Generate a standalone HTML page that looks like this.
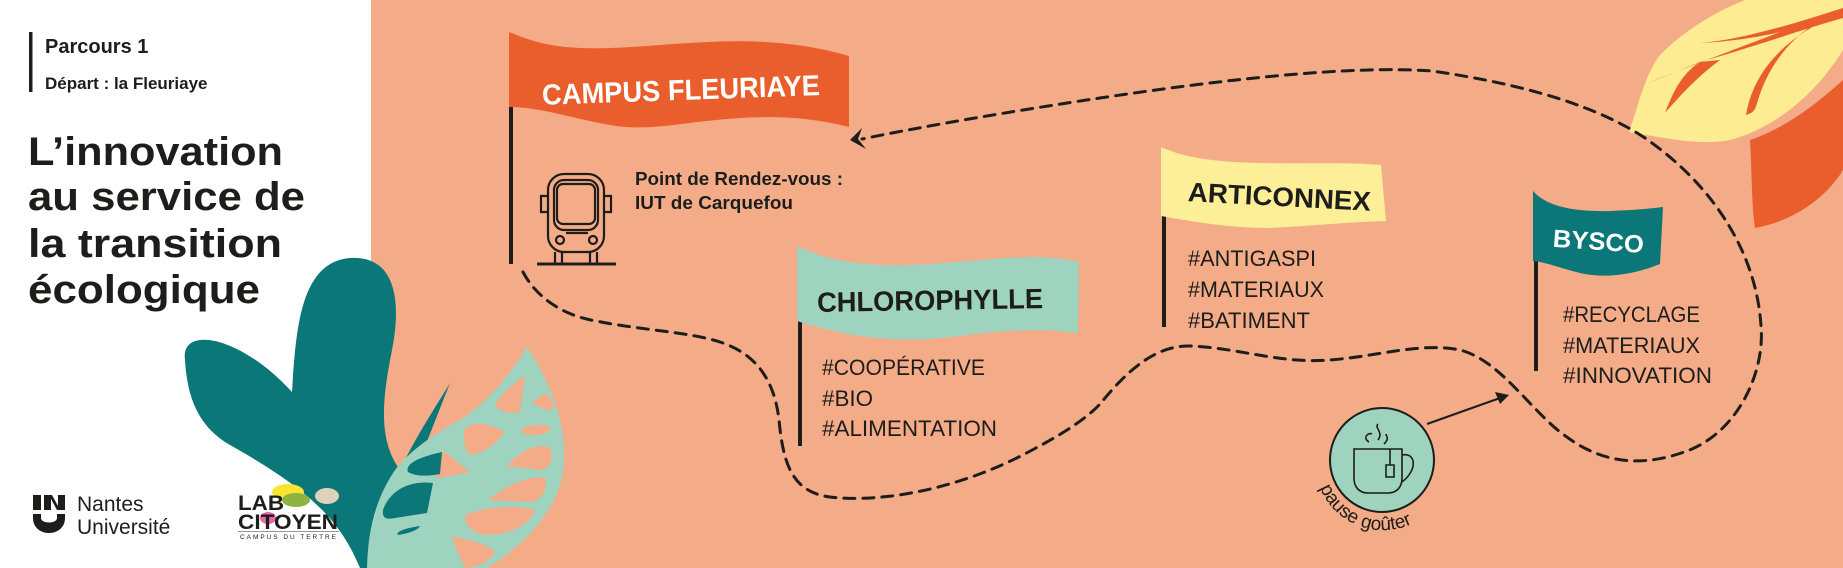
<!DOCTYPE html>
<html><head><meta charset="utf-8">
<style>
html,body{margin:0;padding:0;width:1843px;height:568px;overflow:hidden;background:#fff}
svg{display:block}
</style></head>
<body>
<svg width="1843" height="568" viewBox="0 0 1843 568" xmlns="http://www.w3.org/2000/svg" font-family="Liberation Sans, sans-serif">
<rect x="0" y="0" width="1843" height="568" fill="#fff"/>
<rect x="371" y="0" width="1472" height="568" fill="#F4AC88"/>

<!-- top-right leaves -->
<path d="M1750 140 C1752 180 1752 210 1755 228 C1790 222 1825 200 1843 170 L1843 80 C1810 110 1780 130 1750 140 Z" fill="#E95E2C"/>
<path d="M1629 132 C1640 100 1645 75 1660 55 C1685 30 1715 12 1745 0 L1843 0 L1843 50 C1815 95 1775 128 1730 140 C1700 146 1665 138 1629 132 Z" fill="#FDEC92"/>
<path d="M1648 83 C1700 62 1760 40 1843 8 L1843 18 C1800 30 1760 45 1700 62 C1680 70 1662 78 1648 83 Z" fill="#E95E2C"/>
<path d="M1700 43 C1740 40 1790 25 1843 8 L1843 14 C1800 28 1760 40 1700 43 Z" fill="#E95E2C"/>
<path d="M1843 10 C1800 25 1770 60 1758 100 C1755 110 1755 112 1746 115 C1752 80 1775 40 1843 12 Z" fill="#E95E2C"/>
<path d="M1700 62 C1680 75 1672 95 1665 113 C1685 90 1700 75 1720 60 Z" fill="#E95E2C"/>

<!-- teal plant -->
<path d="M185 360 C180 325 240 335 292 392 C296 330 300 262 350 258 C395 255 402 300 392 350 C382 400 378 440 400 470 L410 568 L360 568 C340 520 310 490 230 445 C195 425 187 392 185 360 Z" fill="#0B7778"/>
<path d="M450 383 C440 400 420 430 405 460 C395 480 390 495 380 500 L400 510 Z" fill="#0B7778"/>
<!-- mint leaf -->
<path d="M527 347 C555 390 568 430 563 473 C555 515 520 548 487 568 L367 568 C368 530 375 500 395 470 C410 450 440 430 460 420 C490 400 510 375 527 347 Z" fill="#9ED4BF"/>
<g fill="#F4AC88">
<path d="M525 375 L520 412 C510 414 500 412 495 405 C500 395 512 385 525 375 Z"/>
<path d="M545 393 C552 398 555 405 553 410 C545 410 538 406 532 403 Z"/>
<path d="M465 428 C478 420 490 425 505 432 C495 445 480 455 470 455 C463 448 463 435 465 428 Z"/>
<path d="M522 428 C535 424 548 424 551 428 C548 435 535 437 522 433 Z"/>
<path d="M507 466 C520 450 540 442 550 448 C555 460 548 470 540 470 Z"/>
<path d="M488 500 C510 482 535 475 545 478 C548 490 542 500 530 502 Z"/>
<path d="M465 515 C490 505 520 505 535 510 C530 525 510 535 485 535 C470 532 465 525 465 515 Z"/>
<path d="M452 536 C470 540 490 545 495 552 C490 562 475 568 465 568 C460 558 455 548 452 536 Z"/>
<path d="M445 452 C430 462 425 472 440 478 L470 472 Z"/>
</g>
<path d="M442 452 C415 458 405 465 408 472 C418 478 435 475 440 474 Z" fill="#0B7778"/>
<path d="M433 483 C410 480 390 490 383 510 C382 518 386 520 395 518 L427 513 Z" fill="#0B7778"/>
<path d="M420 526 C405 528 395 532 398 535 C410 533 418 530 420 526 Z" fill="#0B7778"/>

<!-- left text -->
<rect x="29" y="32" width="3.5" height="60" fill="#1d1d1b"/>
<text x="45" y="53" font-size="20" font-weight="bold" fill="#1d1d1b">Parcours 1</text>
<text x="45" y="89" font-size="17" fill="#1d1d1b" font-weight="bold">Départ : la Fleuriaye</text>
<g font-size="40" font-weight="bold" fill="#1d1d1b">
<text x="28" y="165" textLength="255" lengthAdjust="spacingAndGlyphs">L’innovation</text>
<text x="28" y="210" textLength="277" lengthAdjust="spacingAndGlyphs">au service de</text>
<text x="28" y="257" textLength="254" lengthAdjust="spacingAndGlyphs">la transition</text>
<text x="28" y="303" textLength="232" lengthAdjust="spacingAndGlyphs">écologique</text>
</g>

<!-- Nantes Université logo -->
<rect x="33" y="495" width="8" height="15" fill="#1d1d1b"/>
<path d="M44 495 L52 495 L58 506 L58 495 L65 495 L65 510 L57 510 L51 499 L51 510 L44 510 Z" fill="#1d1d1b"/>
<path d="M33 514 L41 514 L41 518 C41 524 57 524 57 518 L57 514 L65 514 L65 518 C65 538 33 538 33 518 Z" fill="#1d1d1b"/>
<text x="77" y="511" font-size="21" fill="#1d1d1b">Nantes</text>
<text x="77" y="534" font-size="21" fill="#1d1d1b">Université</text>

<!-- LAB CITOYEN -->
<ellipse cx="288" cy="492" rx="16" ry="8" fill="#F7E531"/>
<ellipse cx="296" cy="500" rx="14" ry="7" fill="#8DB443"/>
<ellipse cx="327" cy="496" rx="12" ry="8" fill="#DDD3BA"/>
<ellipse cx="268" cy="518" rx="8" ry="6" fill="#E567A8"/>
<text x="238" y="510" font-size="21" font-weight="bold" fill="#1d1d1b" textLength="46" lengthAdjust="spacingAndGlyphs">LAB</text>
<text x="238" y="529" font-size="21" font-weight="bold" fill="#1d1d1b" textLength="100" lengthAdjust="spacingAndGlyphs">CITOYEN</text>
<rect x="238" y="531" width="101" height="1" fill="#999"/>
<text x="240" y="539" font-size="6.5" fill="#1d1d1b" textLength="96" lengthAdjust="spacing">CAMPUS DU TERTRE</text>

<!-- dashed route -->
<path d="M523 272 C535 295 560 315 596 321 C640 330 690 332 720 342 C760 355 775 385 779 420 C783 460 790 492 830 497 C880 503 960 490 1034 449 C1070 430 1090 415 1100 404 C1120 380 1150 345 1190 346 C1240 348 1280 364 1330 360 C1380 356 1420 342 1460 350 C1500 360 1530 410 1564 435 C1600 462 1640 470 1692 449 C1740 428 1765 370 1761 326 C1757 260 1720 190 1645 138 C1600 108 1530 85 1432 71 C1350 65 1220 80 1100 98 C1020 110 930 125 862 139" fill="none" stroke="#1d1d1b" stroke-width="3" stroke-dasharray="11 8" stroke-linecap="round"/>
<path d="M862 128 L850 140 L866 149 L858 139 Z" fill="#1d1d1b"/>

<!-- Campus flag -->
<rect x="509" y="35" width="4" height="229" fill="#1d1d1b"/>
<path d="M509 32 C530 40 550 50 610 48 C680 46 760 30 849 56 L849 127 C820 120 790 115 740 118 C680 122 650 132 610 125 C570 118 540 107 509 107 Z" fill="#E95E2C"/>
<text x="542" y="100" font-size="29" font-weight="bold" fill="#fff" textLength="278" lengthAdjust="spacingAndGlyphs" transform="rotate(-2 680 90)">CAMPUS FLEURIAYE</text>
<g fill="none" stroke="#1d1d1b" stroke-width="2.2">
<rect x="548" y="174" width="56" height="78" rx="16"/>
<rect x="554" y="180" width="44" height="50" rx="10"/>
<rect x="557" y="184" width="38" height="40" rx="6"/>
<path d="M548 196 L541 196 L541 212 L548 212 M604 196 L611 196 L611 212 L604 212"/>
<circle cx="560" cy="240" r="4"/><circle cx="593" cy="240" r="4"/>
<path d="M566 233 L588 233"/>
<path d="M555 252 L555 263 M562 252 L562 263 M590 252 L590 263 M597 252 L597 263"/>
<path d="M537 264 L616 264" stroke-width="3"/>
</g>
<text x="635" y="185" font-size="18" font-weight="bold" fill="#1d1d1b" textLength="208" lengthAdjust="spacingAndGlyphs">Point de Rendez-vous :</text>
<text x="635" y="209" font-size="18" font-weight="bold" fill="#1d1d1b" textLength="158" lengthAdjust="spacingAndGlyphs">IUT de Carquefou</text>

<!-- Chlorophylle flag -->
<rect x="798" y="320" width="4" height="126" fill="#1d1d1b"/>
<path d="M797 246 C830 262 870 268 930 264 C990 260 1040 252 1079 262 L1078 333 C1040 328 1000 330 960 336 C900 344 850 338 797 321 Z" fill="#9ED4BF"/>
<text x="817" y="310" font-size="28" font-weight="bold" fill="#1d1d1b" textLength="226" lengthAdjust="spacingAndGlyphs" transform="rotate(-1 930 300)">CHLOROPHYLLE</text>
<g font-size="22" fill="#1d1d1b">
<text x="822" y="375" textLength="163" lengthAdjust="spacingAndGlyphs">#COOPÉRATIVE</text>
<text x="822" y="406" textLength="51" lengthAdjust="spacingAndGlyphs">#BIO</text>
<text x="822" y="436" textLength="175" lengthAdjust="spacingAndGlyphs">#ALIMENTATION</text>
</g>

<!-- Articonnex flag -->
<rect x="1162" y="216" width="4" height="111" fill="#1d1d1b"/>
<path d="M1161 147 C1185 158 1215 162 1260 163 C1310 164 1350 162 1381 165 L1386 221 C1350 222 1310 226 1270 228 C1230 228 1195 222 1161 216 Z" fill="#FDEE98"/>
<text x="1188" y="206" font-size="27" font-weight="bold" fill="#1d1d1b" textLength="183" lengthAdjust="spacingAndGlyphs" transform="rotate(3 1280 195)">ARTICONNEX</text>
<g font-size="22" fill="#1d1d1b">
<text x="1188" y="266" textLength="128" lengthAdjust="spacingAndGlyphs">#ANTIGASPI</text>
<text x="1188" y="297" textLength="136" lengthAdjust="spacingAndGlyphs">#MATERIAUX</text>
<text x="1188" y="328" textLength="122" lengthAdjust="spacingAndGlyphs">#BATIMENT</text>
</g>

<!-- Bysco flag -->
<rect x="1534" y="259" width="4" height="112" fill="#1d1d1b"/>
<path d="M1533 191 C1545 205 1570 212 1610 211 C1640 210 1655 208 1663 207 L1660 264 C1640 272 1610 280 1580 273 C1560 268 1545 262 1533 261 Z" fill="#0B7778"/>
<text x="1553" y="250" font-size="25" font-weight="bold" fill="#fff" textLength="91" lengthAdjust="spacingAndGlyphs" transform="rotate(4 1600 240)">BYSCO</text>
<g font-size="22" fill="#1d1d1b">
<text x="1563" y="322" textLength="137" lengthAdjust="spacingAndGlyphs">#RECYCLAGE</text>
<text x="1563" y="353" textLength="137" lengthAdjust="spacingAndGlyphs">#MATERIAUX</text>
<text x="1563" y="383" textLength="149" lengthAdjust="spacingAndGlyphs">#INNOVATION</text>
</g>

<!-- pause gouter -->
<line x1="1427" y1="424" x2="1500" y2="398" stroke="#1d1d1b" stroke-width="2"/>
<path d="M1509 395 L1495 392 L1500 404 Z" fill="#1d1d1b"/>
<circle cx="1382" cy="460" r="52" fill="#9ED4BF" stroke="#1d1d1b" stroke-width="2"/>
<g fill="none" stroke="#1d1d1b" stroke-width="1.6">
<path d="M1354 449 L1354 478 C1354 488 1360 493 1368 493 L1388 493 C1396 493 1402 488 1402 478 L1402 449 Z"/>
<path d="M1402 455 C1416 452 1418 470 1402 482"/>
<path d="M1390 449 L1390 465 M1386 465 h8 v12 h-8 Z"/>
<path d="M1369 442 C1362 438 1368 432 1372 434 M1378 440 C1384 432 1374 428 1378 424 M1384 444 C1390 438 1386 436 1386 434"/>
</g>
<path id="arc" d="M1318 482 A68 68 0 0 0 1446 488" fill="none"/>
<text font-size="19" fill="#1d1d1b"><textPath href="#arc" startOffset="6">pause goûter</textPath></text>
</svg>
</body></html>
